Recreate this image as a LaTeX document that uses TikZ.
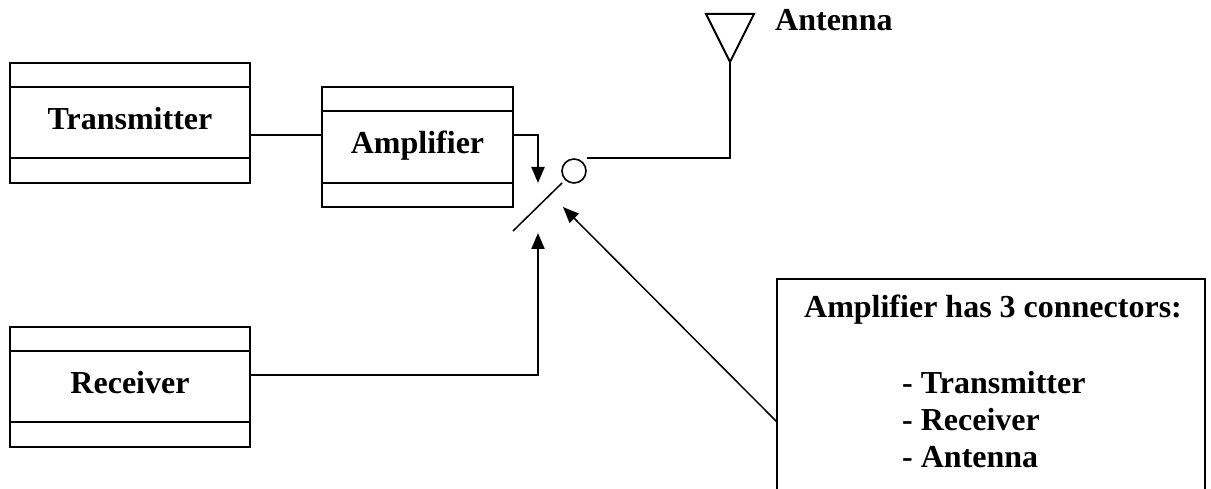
\documentclass[tikz,border=0pt]{standalone}
\usepackage{fontspec}
\setmainfont{Liberation Serif}
\usetikzlibrary{positioning,arrows.meta}
\begin{document}
\begin{tikzpicture}[x=1pt,y=-1pt,
	fach/.style={draw,line width=2pt,outer sep=0pt,inner sep=0pt},
	klasse/.style={fach,minimum height=71pt,text height=21pt,text depth=7pt,font=\fontsize{32}{38}\selectfont\bfseries},
	schrift/.style={font=\fontsize{32}{38}\selectfont\bfseries,inner sep=0pt},
	leitung/.style={line width=2pt},
	pfeil/.style={-{Triangle[length=16pt,width=13pt]}}]
	\useasboundingbox (0,0) rectangle (1211,489);

	\node[klasse,minimum width=240pt] (tx) at (130,122.5) {Transmitter};%Sender
	\node[fach,minimum width=240pt,minimum height=24pt,above=0pt of tx] (txoben) {};
	\node[fach,minimum width=240pt,minimum height=25pt,below=0pt of tx] (txunten) {};

	\node[klasse,minimum width=191pt,minimum height=72pt] (amp) at (417.5,147) {Amplifier};%Verstaerker
	\node[fach,minimum width=191pt,minimum height=24pt,above=0pt of amp] (ampoben) {};
	\node[fach,minimum width=191pt,minimum height=24pt,below=0pt of amp] (ampunten) {};

	\node[klasse,minimum width=240pt] (rx) at (130,386.5) {Receiver};%Empfaenger
	\node[fach,minimum width=240pt,minimum height=24pt,above=0pt of rx] (rxoben) {};
	\node[fach,minimum width=240pt,minimum height=25pt,below=0pt of rx] (rxunten) {};

	\node[draw,circle,line width=1.6pt,minimum size=24pt,inner sep=0pt] (sw) at (574,171) {};%Schaltkontakt
	\draw[line width=1.5pt] (513,231) -- (562,183);%Schalter

	\draw[leitung,line join=miter] (706,14) -- (754,14) -- (730,62) -- cycle;%Antenne
	\coordinate (ant) at (730,62);
	\node[schrift,anchor=base west] (antlabel) at (775,31) {Antenna};

	\coordinate (arrA) at (538,183);
	\coordinate (arrB) at (538,233);
	\coordinate (arrC) at (563,207);
	\coordinate (notein) at (777,422);

	\draw[leitung] ([yshift=-12.5pt]tx.east) -- ([yshift=12pt]amp.west);
	\draw[leitung,pfeil] ([yshift=12pt]amp.east) -| (arrA);
	\draw[leitung,pfeil] ([yshift=11.5pt]rx.east) -| (arrB);
	\draw[leitung] (sw.east |- sw.north) -| (ant);
	\draw[line width=1.5pt,pfeil] (notein) -- (arrC);

	\draw[leitung] (777,489) |- (1205,279) -- (1205,489);%Notiz
	\node[schrift,anchor=base] (titel) at (993,318) {Amplifier has 3 connectors:};
	\node[schrift,anchor=base west] (punkt1) at (902,393) {- Transmitter};
	\node[schrift,anchor=base west] (punkt2) at (902,430) {- Receiver};
	\node[schrift,anchor=base west] (punkt3) at (902,467) {- Antenna};
\end{tikzpicture}
\end{document}
